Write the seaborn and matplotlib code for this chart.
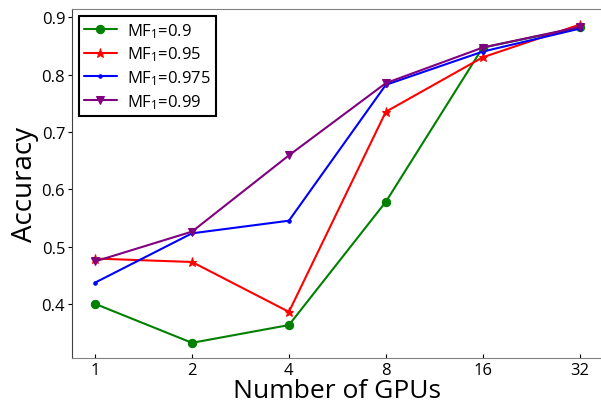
import numpy as np
import pandas as pd
import matplotlib
matplotlib.use("Agg")
import matplotlib.pyplot as plt
import seaborn as sns

# verileri tanimla
gpus = [1, 2, 4, 8, 16, 32]
acc_09 = [0.400, 0.332, 0.363, 0.578, 0.847, 0.882]
acc_095 = [0.479, 0.473, 0.386, 0.735, 0.830, 0.887]
acc_0975 = [0.437, 0.523, 0.545, 0.782, 0.840, 0.880]
acc_099 = [0.474, 0.526, 0.659, 0.785, 0.847, 0.883]
labels = ['MF$_1$=0.9', 'MF$_1$=0.95', 'MF$_1$=0.975', 'MF$_1$=0.99']

sns.set_style('white')
plt.rcParams['font.family'] = ['Open Sans', 'DejaVu Sans']
plt.rcParams['mathtext.fontset'] = 'custom'
plt.rcParams['mathtext.rm'] = 'Open Sans'
plt.rcParams['mathtext.it'] = 'Open Sans'
plt.rcParams['text.color'] = 'black'
plt.rcParams['axes.labelcolor'] = 'black'
plt.rcParams['xtick.color'] = 'black'
plt.rcParams['ytick.color'] = 'black'

fig = plt.figure(figsize=(6.01, 4.06), dpi=100)
ax = fig.add_axes([0.12, 0.115, 0.88, 0.86])

styles = [('green', 'o', 6), ('red', '*', 6.5), ('blue', '.', 5), ('purple', 'v', 5.5)]
for vals, lab, (c, m, ms) in zip([acc_09, acc_095, acc_0975, acc_099], labels, styles):
    sns.lineplot(x=gpus, y=vals, color=c, marker=m, markersize=ms, markeredgecolor=c,
                 linewidth=1.5, label=lab, ax=ax)

ax.set_xscale('log', base=2)
ax.set_xticks(gpus)
ax.set_xticklabels([str(g) for g in gpus])
ax.minorticks_off()
ax.set_xlim(2 ** -0.237, 2 ** 5.22)
ax.set_ylim(0.305, 0.914)
ax.set_yticks([0.4, 0.5, 0.6, 0.7, 0.8, 0.9])

ax.tick_params(axis='x', direction='in', length=3, labelsize=12, pad=3, bottom=True)
ax.tick_params(axis='y', direction='out', length=3, labelsize=12, pad=2, left=True)
ax.set_xlabel('Number of GPUs', fontsize=19, labelpad=0)
ax.set_ylabel('Accuracy', fontsize=20, labelpad=2)

ax.spines['right'].set_visible(False)
for s in ['top', 'bottom']:
    ax.spines[s].set_color('#808080')
ax.spines['left'].set_color('#404040')

leg = ax.legend(loc='upper left', fontsize=12, frameon=True, fancybox=False,
                edgecolor='black', framealpha=1, numpoints=1, borderaxespad=0.4,
                labelspacing=0.3, handlelength=2, handletextpad=0.6, borderpad=0.3)
leg.get_frame().set_linewidth(1.5)

fig.savefig('out.png', dpi=100)
